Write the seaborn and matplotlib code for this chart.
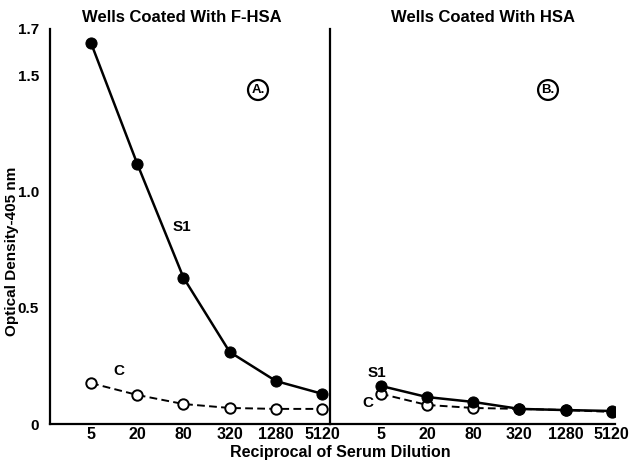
import numpy as np
import pandas as pd
import matplotlib
matplotlib.use("Agg")
import matplotlib.pyplot as plt
import seaborn as sns
from matplotlib.ticker import FixedLocator, FixedFormatter, MultipleLocator, NullLocator

sns.set_style("white")
plt.rcParams['font.family'] = ['Liberation Sans', 'DejaVu Sans']
plt.rcParams['font.weight'] = 'bold'

dilutions = [5, 20, 80, 320, 1280, 5120]
tick_labels = ["5", "20", "80", "320", "1280", "5120"]

# Panel A: wells coated with F-HSA
a_s1 = [1.64, 1.12, 0.63, 0.31, 0.185, 0.13]
a_c = [0.176, 0.125, 0.086, 0.069, 0.065, 0.065]
# Panel B: wells coated with HSA
b_s1 = [0.164, 0.116, 0.095, 0.065, 0.060, 0.056]
b_c = [0.130, 0.082, 0.069, 0.065, 0.060, 0.052]

y_ticks = [0, 0.5, 1.0, 1.5, 1.7]
y_tick_labels = ["0", "0.5", "1.0", "1.5", "1.7"]

W, H = 644, 467
fig = plt.figure(figsize=(W / 100, H / 100), dpi=100)

def fx(px):
    return px / W

def fy(py):
    return 1 - py / H

bottom = fy(424)
height = fy(29) - bottom
ax1 = fig.add_axes([fx(50), bottom, fx(330) - fx(50), height])
ax2 = fig.add_axes([fx(330), bottom, fx(615) - fx(330), height])

def draw(ax, s1, c):
    df = pd.DataFrame({"dilution": dilutions * 2,
                       "od": s1 + c,
                       "series": ["S1"] * 6 + ["C"] * 6})
    sns.lineplot(data=df[df.series == "C"], x="dilution", y="od", ax=ax,
                 color="black", linestyle=(0, (4, 2.2)), linewidth=1.4,
                 marker="o", markersize=7.5, markerfacecolor="white",
                 markeredgecolor="black", markeredgewidth=1.4, zorder=3)
    sns.lineplot(data=df[df.series == "S1"], x="dilution", y="od", ax=ax,
                 color="black", linewidth=1.8, marker="o", markersize=8,
                 markerfacecolor="black", markeredgecolor="black", zorder=4)
    ax.set_xscale("log", base=4)
    ax.set_ylim(0, 1.7)
    ax.xaxis.set_major_locator(FixedLocator(dilutions))
    ax.xaxis.set_major_formatter(FixedFormatter(tick_labels))
    ax.xaxis.set_minor_locator(NullLocator())
    ax.yaxis.set_major_locator(FixedLocator(y_ticks))
    ax.yaxis.set_major_formatter(FixedFormatter(y_tick_labels))
    ax.yaxis.set_minor_locator(MultipleLocator(0.1))
    ax.set_xlabel("")
    ax.set_ylabel("")
    for s in ["top", "right"]:
        ax.spines[s].set_visible(False)
    for s in ["left", "bottom"]:
        ax.spines[s].set_linewidth(1.6)
        ax.spines[s].set_color("black")
    ax.tick_params(axis="y", which="major", direction="out", length=5, width=1.4,
                   labelsize=11, pad=3, colors="black")
    ax.tick_params(axis="y", which="minor", direction="out", length=4, width=1.4, colors="black")
    ax.tick_params(axis="x", which="major", direction="in", length=3, width=1.2,
                   labelsize=11.5, pad=2, colors="black")
    ax.set_facecolor("none")

draw(ax1, a_s1, a_c)
draw(ax2, b_s1, b_c)

ax1.set_xlim(5 * 4 ** -0.887, 5 * 4 ** 5.17)
ax2.set_xlim(5 * 4 ** -1.10, 5 * 4 ** 5.07)
ax2.tick_params(axis="y", labelleft=False)

for lab in ax1.get_yticklabels() + ax1.get_xticklabels() + ax2.get_xticklabels():
    lab.set_fontweight("bold")

txt = dict(fontweight="bold", color="black", ha="center", va="center")
fig.text(fx(182), fy(18), "Wells Coated With F-HSA", fontsize=12, **txt)
fig.text(fx(483), fy(18), "Wells Coated With HSA", fontsize=12, **txt)
fig.text(fx(340), fy(452), "Reciprocal of Serum Dilution", fontsize=11.5, **txt)
fig.text(fx(12), fy(251), "Optical Density-405 nm", fontsize=11, rotation=90, **txt)

fig.text(fx(182), fy(227), "S1", fontsize=11, **txt)
fig.text(fx(119), fy(371), "C", fontsize=11, **txt)
fig.text(fx(377), fy(373), "S1", fontsize=11, **txt)
fig.text(fx(368), fy(403), "C", fontsize=11, **txt)

circ = dict(boxstyle="circle,pad=0.25", fc="white", ec="black", lw=1.6)
fig.text(fx(258), fy(90), "A.", fontsize=9.5, bbox=circ, **txt)
fig.text(fx(548), fy(90), "B.", fontsize=9.5, bbox=circ, **txt)

fig.savefig("out.png", dpi=100, facecolor="white")
